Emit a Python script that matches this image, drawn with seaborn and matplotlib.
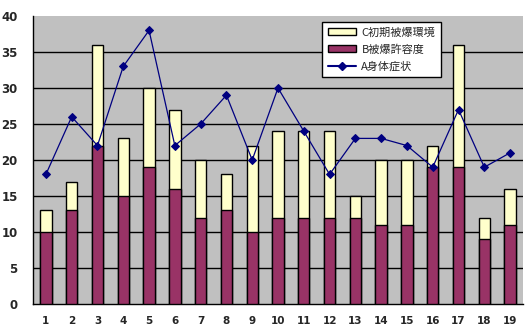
import matplotlib
matplotlib.use("Agg")
import matplotlib.pyplot as plt
import matplotlib.patches as mpatches
import matplotlib.lines as mlines
import numpy as np
import pandas as pd
import seaborn as sns

categories = [str(i) for i in range(1, 20)]
b_values = [10, 13, 22, 15, 19, 16, 12, 13, 10, 12, 12, 12, 12, 11, 11, 19, 19, 9, 11]
c_values = [3, 4, 14, 8, 11, 11, 8, 5, 12, 12, 12, 12, 3, 9, 9, 3, 17, 3, 5]
a_values = [18, 26, 22, 33, 38, 22, 25, 29, 20, 30, 24, 18, 23, 23, 22, 19, 27, 19, 21]
y_ticks = [0, 5, 10, 15, 20, 25, 30, 35, 40]

label_c = "C初期被爆環境"
label_b = "B被爆許容度"
label_a = "A身体症状"

col_c = "#FFFFCC"
col_b = "#993366"
col_a = "#000080"

sns.set_style("white")
plt.rcParams["font.family"] = ["Noto Sans CJK JP", "DejaVu Sans"]

df = pd.DataFrame({
    "cat": categories,
    "B": b_values,
    "C": c_values,
    "A": a_values,
})
df["total"] = df["B"] + df["C"]
df["pos"] = np.arange(len(df))

fig = plt.figure(figsize=(5.31, 3.36), dpi=100)
ax = fig.add_axes([33 / 531, 32 / 336, 490 / 531, 288 / 336])
ax.set_facecolor("#C0C0C0")

# stacked bars: full height in cream, lower segment in purple
sns.barplot(data=df, x="cat", y="total", color=col_c, saturation=1,
            width=0.44, edgecolor="black", linewidth=1.0, ax=ax, zorder=2)
sns.barplot(data=df, x="cat", y="B", color=col_b, saturation=1,
            width=0.44, edgecolor="black", linewidth=1.0, ax=ax, zorder=3)
sns.lineplot(data=df, x="pos", y="A", color=col_a, linewidth=0.9,
             marker="D", markersize=4.5, markeredgecolor=col_a, ax=ax, zorder=4)

ax.set_xlim(-0.5, len(df) - 0.5)
ax.set_ylim(0, 40)
ax.set_yticks(y_ticks)
ax.set_yticklabels([str(t) for t in y_ticks], fontsize=8.5, fontweight="bold",
                   family="DejaVu Sans")
ax.set_xticks(df["pos"])
ax.set_xticklabels(categories, fontsize=7.5, fontweight="bold", family="DejaVu Sans")
ax.set_xlabel("")
ax.set_ylabel("")
for t in y_ticks[1:-1]:
    ax.axhline(t, color="black", linewidth=1.0, zorder=1)

ax.tick_params(axis="x", length=0, pad=9)
ax.tick_params(axis="y", length=0, pad=11)
ax.set_xticks(np.arange(-0.5, len(df), 1.0), minor=True)
ax.tick_params(axis="x", which="minor", direction="in", length=3, width=1, color="black")

for side in ["top", "right"]:
    ax.spines[side].set_visible(False)
for side in ["left", "bottom"]:
    ax.spines[side].set_color("black")
    ax.spines[side].set_linewidth(1.0)

handles = [
    mpatches.Patch(facecolor=col_c, edgecolor="black", label=label_c),
    mpatches.Patch(facecolor=col_b, edgecolor="black", label=label_b),
    mlines.Line2D([], [], color=col_a, marker="D", markersize=4, label=label_a),
]
leg = ax.legend(handles=handles, loc="upper left",
                bbox_to_anchor=((322 - 33) / 490, (304 - 22) / 288),
                frameon=True, fancybox=False, framealpha=1, fontsize=8,
                handlelength=2.6, handleheight=0.6, borderpad=0.5,
                labelspacing=0.6, handletextpad=0.45, borderaxespad=0)
leg.get_frame().set_edgecolor("black")
leg.get_frame().set_linewidth(1.0)
leg.set_zorder(10)

fig.savefig("out.png", dpi=100)
